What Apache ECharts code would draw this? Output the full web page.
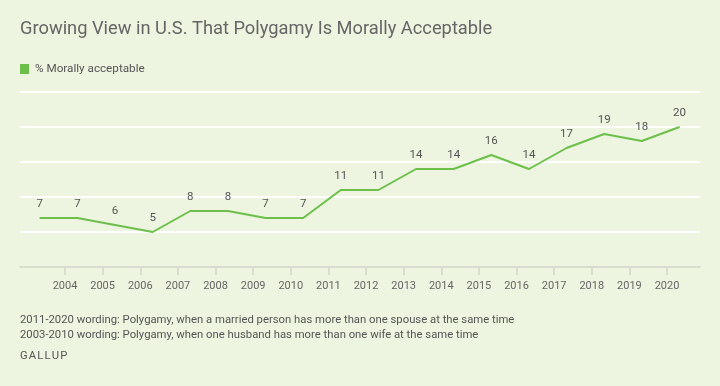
<!DOCTYPE html>
<html>
<head>
<meta charset="utf-8">
<script src="https://cdn.jsdelivr.net/npm/echarts@6/dist/echarts.min.js"></script>
<style>
html,body{margin:0;padding:0;background:#edf4df;}
#chart{width:720px;height:386px;}
</style>
</head>
<body>
<div id="chart"></div>
<script>
var years = [2003,2004,2005,2006,2007,2008,2009,2010,2011,2012,2013,2014,2015,2016,2017,2018,2019,2020];
var moralValues = [7,7,6,5,8,8,7,7,11,11,14,14,16,14,17,19,18,20];
var tickYears = [2004,2005,2006,2007,2008,2009,2010,2011,2012,2013,2014,2015,2016,2017,2018,2019,2020];
var seriesName = '% Morally acceptable';
var titleText = 'Growing View in U.S. That Polygamy Is Morally Acceptable';
var note1 = '2011-2020 wording: Polygamy, when a married person has more than one spouse at the same time';
var note2 = '2003-2010 wording: Polygamy, when one husband has more than one wife at the same time';
var source = 'GALLUP';

// surveys conducted in May each year
var surveyOffset = 0.33;
var seriesData = years.map(function (y, i) { return [y + surveyOffset, moralValues[i]]; });

var FONT = 'Roboto, "Noto Sans", sans-serif';
var chart = echarts.init(document.getElementById('chart'));
chart.setOption({
  backgroundColor: '#edf4df',
  animation: false,
  textStyle: { fontFamily: FONT },
  title: {
    text: titleText,
    left: 20, top: 20, padding: 0,
    textStyle: { fontFamily: FONT, fontSize: 18.3, fontWeight: 'normal', color: '#666666' }
  },
  legend: {
    data: [seriesName],
    left: 20, top: 63, padding: 0,
    icon: 'rect', itemWidth: 9, itemHeight: 10, itemGap: 10,
    textStyle: { fontFamily: FONT, fontSize: 11.7, color: '#555555', padding: [0, 0, 0, 1] }
  },
  grid: { left: 20, right: 20, top: 92, bottom: 119, containLabel: false },
  xAxis: {
    type: 'value',
    min: 2002.804, max: 2020.877,
    axisLine: { show: true, lineStyle: { color: '#d8dccf', width: 2 } },
    axisTick: { show: true, customValues: tickYears, length: 8, lineStyle: { color: '#d8dccf', width: 2 } },
    axisLabel: {
      customValues: tickYears, margin: 14,
      formatter: function (v) { return String(Math.round(v)); },
      fontFamily: FONT, fontSize: 11, color: '#666666'
    },
    splitLine: { show: false }
  },
  yAxis: {
    type: 'value', min: 0, max: 25, interval: 5,
    axisLine: { show: false }, axisTick: { show: false }, axisLabel: { show: false },
    splitLine: { show: true, lineStyle: { color: '#ffffff', width: 2 } }
  },
  series: [{
    name: seriesName,
    type: 'line',
    data: seriesData,
    symbol: 'circle', symbolSize: 1,
    itemStyle: { color: '#6cc04a' },
    lineStyle: { color: '#6cc04a', width: 2 },
    label: {
      show: true, position: 'top', distance: 7,
      formatter: function (p) { return p.value[1]; },
      fontFamily: FONT, fontSize: 11.5, color: '#555555'
    }
  }],
  graphic: [
    { type: 'text', left: 20, top: 315, style: { text: note1, fontFamily: FONT, fontSize: 11.3, fill: '#555555' } },
    { type: 'text', left: 20, top: 330, style: { text: note2, fontFamily: FONT, fontSize: 11.3, fill: '#555555' } },
    { type: 'text', left: 20, top: 351, style: { text: source.split('').join('\u200A'), fontFamily: FONT, fontSize: 11.3, fill: '#555555' } }
  ]
});
</script>
</body>
</html>
